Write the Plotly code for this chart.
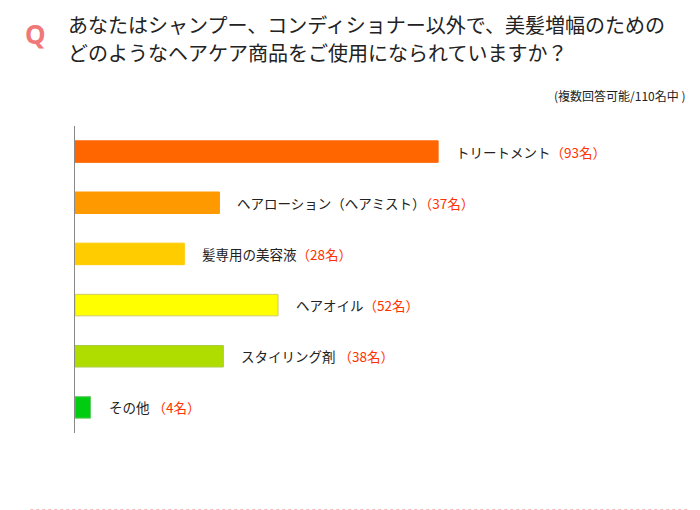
import plotly.graph_objects as go

categories = ["トリートメント", "ヘアローション（ヘアミスト）", "髪専用の美容液", "ヘアオイル", "スタイリング剤 ", "その他 "]
values = [93, 37, 28, 52, 38, 4]
colors = ["#FF6600", "#FF9900", "#FFCC00", "#FFFF00", "#B0DD00", "#00CC11"]
lines = ["#FF6600", "#FF9900", "#FFCC00", "#CCCC66", "#AACC44", "#66CC66"]

font = "Noto Sans CJK JP"
fig = go.Figure(go.Bar(
    x=values, y=categories, orientation="h", width=0.42,
    marker=dict(color=colors, line=dict(color=lines, width=1)),
    hoverinfo="skip"))

for c, v in zip(categories, values):
    fig.add_annotation(x=v, y=c, xanchor="left", xshift=16, showarrow=False,
                       text=f"<span style='color:#222'>{c}</span><span style='color:#FF3300'>（{v}名）</span>",
                       font=dict(size=13.5, family=font))

fig.update_layout(
    width=700, height=510, margin=dict(l=67, r=20, t=118, b=85, autoexpand=False),
    paper_bgcolor="white", plot_bgcolor="white", showlegend=False,
    xaxis=dict(range=[0, 157], visible=False),
    yaxis=dict(autorange="reversed", showticklabels=False, showgrid=False,
               showline=True, linecolor="#888", linewidth=1, ticks=""),
    font=dict(family=font),
)
fig.add_annotation(xref="paper", yref="paper", x=-0.085, y=1.3, xanchor="left", yanchor="middle",
                   text="<b>Q</b>", showarrow=False, font=dict(size=26, color="#F07878", family="Noto Sans"))
fig.add_annotation(xref="paper", yref="paper", x=-0.015, y=1.33, xanchor="left", yanchor="middle",
                   text="あなたはシャンプー、コンディショナー以外で、美髪増幅のための", showarrow=False,
                   font=dict(size=20, color="#222", family=font))
fig.add_annotation(xref="paper", yref="paper", x=-0.015, y=1.238, xanchor="left", yanchor="middle",
                   text="どのようなヘアケア商品をご使用になられていますか？", showarrow=False,
                   font=dict(size=20, color="#222", family=font))
fig.add_annotation(xref="paper", yref="paper", x=1.0, y=1.1, xanchor="right", yanchor="middle",
                   text="(複数回答可能/110名中 )", showarrow=False,
                   font=dict(size=12, color="#222", family=font))
fig.add_shape(type="line", xref="paper", yref="paper", x0=-0.073, x1=1.0, y0=-0.25, y1=-0.25,
              line=dict(color="#F5A0A0", width=1, dash="dot"))

fig.write_html("out.html")
